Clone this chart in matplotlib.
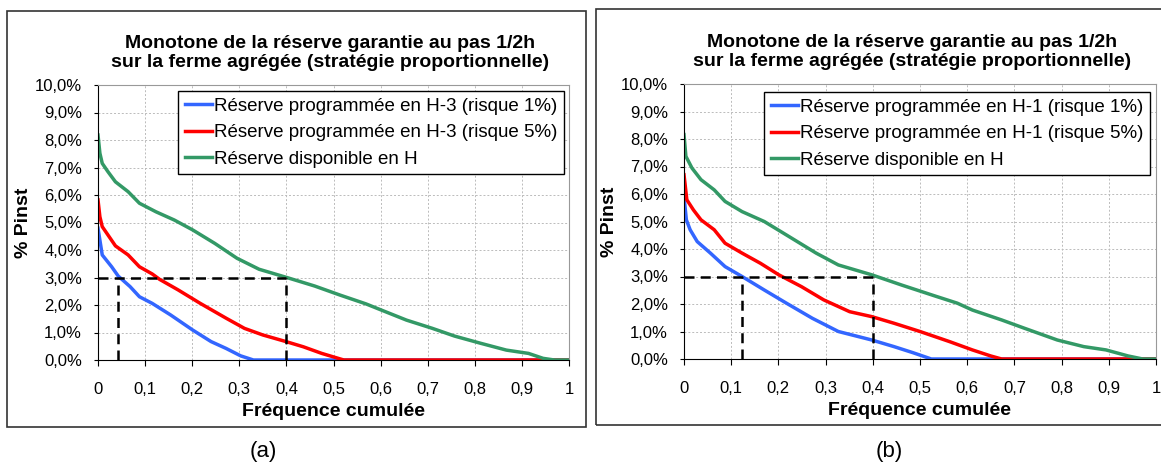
import matplotlib
matplotlib.use("Agg")
from matplotlib import pyplot as plt
from matplotlib.patches import Rectangle
from matplotlib.ticker import FuncFormatter

plt.rcParams['font.family'] = ['Liberation Sans', 'DejaVu Sans']

# panel (a) : H-3
a_blue_x = [0, 0.009, 0.029, 0.043, 0.068, 0.088, 0.115, 0.154, 0.201, 0.240, 0.272, 0.303, 0.330, 1.0]
a_blue_y = [4.79, 3.82, 3.39, 3.05, 2.67, 2.30, 2.06, 1.64, 1.09, 0.67, 0.42, 0.15, 0.0, 0.0]
a_red_x = [0, 0.004, 0.009, 0.021, 0.037, 0.064, 0.088, 0.115, 0.131, 0.170, 0.217, 0.272,
           0.311, 0.350, 0.399, 0.436, 0.475, 0.514, 0.522, 1.0]
a_red_y = [5.82, 5.21, 4.85, 4.55, 4.15, 3.82, 3.39, 3.13, 2.93, 2.55, 2.06, 1.52,
           1.15, 0.91, 0.67, 0.48, 0.24, 0.04, 0.0, 0.0]
a_green_x = [0, 0.004, 0.009, 0.021, 0.037, 0.064, 0.088, 0.123, 0.162, 0.201, 0.248, 0.295,
             0.342, 0.399, 0.460, 0.514, 0.569, 0.601, 0.655, 0.710, 0.757, 0.812, 0.867,
             0.914, 0.945, 0.969, 1.0]
a_green_y = [8.18, 7.52, 7.15, 6.85, 6.48, 6.12, 5.70, 5.39, 5.09, 4.73, 4.24, 3.70,
             3.30, 3.01, 2.69, 2.36, 2.04, 1.82, 1.45, 1.15, 0.87, 0.61, 0.36,
             0.24, 0.06, 0.0, 0.0]
a_mark_x = [0.043, 0.4]

# panel (b) : H-1
b_blue_x = [0, 0.005, 0.013, 0.028, 0.056, 0.087, 0.123, 0.170, 0.217, 0.272, 0.327, 0.398,
            0.445, 0.485, 0.524, 1.0]
b_blue_y = [5.91, 5.06, 4.70, 4.27, 3.85, 3.36, 3.00, 2.51, 2.03, 1.48, 1.00, 0.69,
            0.45, 0.23, 0.0, 0.0]
b_red_x = [0, 0.006, 0.020, 0.036, 0.064, 0.087, 0.123, 0.162, 0.201, 0.249, 0.296, 0.351,
           0.398, 0.445, 0.500, 0.563, 0.611, 0.650, 0.673, 1.0]
b_red_y = [6.70, 5.79, 5.42, 5.06, 4.70, 4.21, 3.85, 3.48, 3.06, 2.63, 2.15, 1.72,
           1.54, 1.30, 1.00, 0.63, 0.33, 0.11, 0.0, 0.0]
b_green_x = [0, 0.004, 0.017, 0.036, 0.064, 0.087, 0.123, 0.170, 0.217, 0.280, 0.327, 0.398,
             0.461, 0.532, 0.579, 0.611, 0.673, 0.721, 0.791, 0.847, 0.894, 0.941, 0.972, 1.0]
b_green_y = [8.16, 7.37, 6.94, 6.52, 6.15, 5.73, 5.36, 5.00, 4.51, 3.85, 3.42, 3.06,
             2.69, 2.29, 2.03, 1.78, 1.42, 1.12, 0.69, 0.45, 0.33, 0.11, 0.0, 0.0]
b_mark_x = [0.123, 0.4]

seuil = 3.0
title = "Monotone de la réserve garantie au pas 1/2h\nsur la ferme agrégée (stratégie proportionnelle)"
xticks = [0, 0.1, 0.2, 0.3, 0.4, 0.5, 0.6, 0.7, 0.8, 0.9, 1]
yticks = [0, 1, 2, 3, 4, 5, 6, 7, 8, 9, 10]

BLUE = "#3366FF"
RED = "#FF0000"
GREEN = "#339966"


def fr(v, pos=None):
    return ("%g" % v).replace(".", ",")


def draw(ax, blue, red, green, marks, horizon, title_x, leg_anchor):
    ax.plot(blue[0], blue[1], color=BLUE, lw=2.5, label="Réserve programmée en %s (risque 1%%)" % horizon)
    ax.plot(red[0], red[1], color=RED, lw=2.5, label="Réserve programmée en %s (risque 5%%)" % horizon)
    ax.plot(green[0], green[1], color=GREEN, lw=2.5, label="Réserve disponible en H")
    ax.plot([0, marks[1]], [seuil, seuil], color="black", lw=1.8, ls=(0, (4, 2.5)), zorder=4)
    for m in marks:
        ax.plot([m, m], [0, seuil], color="black", lw=1.8, ls=(0, (4, 2.5)), zorder=4)
    ax.set_xlim(0, 1)
    ax.set_ylim(0, 10)
    ax.set_xticks(xticks)
    ax.set_yticks(yticks)
    ax.xaxis.set_major_formatter(FuncFormatter(fr))
    ax.yaxis.set_major_formatter(FuncFormatter(lambda v, p: ("%.1f%%" % v).replace(".", ",")))
    ax.tick_params(axis="x", direction="out", length=4, pad=12, labelsize=12, color="black")
    ax.tick_params(axis="y", direction="out", length=3, pad=8.5, labelsize=12, color="black")
    ax.grid(True, color="#BBBBBB", ls=(0, (2, 2)), lw=0.7)
    for side in ["top", "right"]:
        ax.spines[side].set_color("#999999")
    for side in ["left", "bottom"]:
        ax.spines[side].set_color("black")
    ax.set_xlabel("Fréquence cumulée", fontsize=14, fontweight="bold", labelpad=4.5)
    ax.set_ylabel("% Pinst", fontsize=14, fontweight="bold", labelpad=2)
    ax.set_title(title, fontsize=14, fontweight="bold", pad=13, linespacing=1.15, x=title_x)
    leg = ax.legend(loc="upper right", bbox_to_anchor=leg_anchor, fontsize=13.5,
                    fancybox=False, edgecolor="black", framealpha=1, handlelength=1.45,
                    handletextpad=0.1, borderpad=0.35, labelspacing=0.5, borderaxespad=0)
    leg.get_frame().set_linewidth(1.0)


fig = plt.figure(figsize=(11.61, 4.63), dpi=100)
ax1 = fig.add_axes([98 / 1161, 103 / 463, 471 / 1161, 275 / 463])
ax2 = fig.add_axes([684 / 1161, 104 / 463, 472 / 1161, 275 / 463])

draw(ax1, (a_blue_x, a_blue_y), (a_red_x, a_red_y), (a_green_x, a_green_y), a_mark_x, "H-3",
     0.493, (0.989, 0.978))
draw(ax2, (b_blue_x, b_blue_y), (b_red_x, b_red_y), (b_green_x, b_green_y), b_mark_x, "H-1",
     0.483, (0.987, 0.971))

# cadres autour des graphiques
fig.add_artist(Rectangle((7 / 1161, 1 - 427 / 463), 579 / 1161, 416 / 463,
                         transform=fig.transFigure, fill=False, edgecolor="#333333", lw=1.2))
fig.add_artist(Rectangle((596 / 1161, 1 - 425 / 463), 580 / 1161, 416 / 463,
                         transform=fig.transFigure, fill=False, edgecolor="#333333", lw=1.2))

fig.text(263 / 1161, 1 - 452 / 463, "(a)", fontsize=16, ha="center", va="center")
fig.text(889 / 1161, 1 - 452 / 463, "(b)", fontsize=16, ha="center", va="center")

fig.savefig("out.png", dpi=100)
